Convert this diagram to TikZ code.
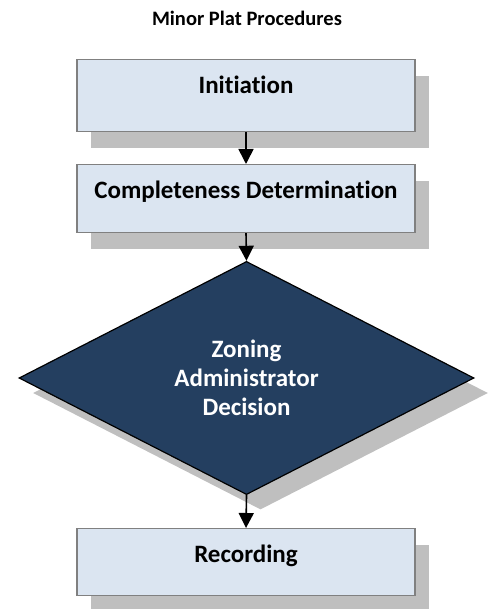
\documentclass[tikz,border=0pt]{standalone}
\usepackage{fontspec}
\setmainfont{Carlito}[RawFeature={-liga;-clig;-dlig}]
\usepackage{tikz}
\usetikzlibrary{shapes.geometric, arrows.meta, positioning, shadows}
\usepackage{xcolor}
\definecolor{boxfill}{RGB}{219, 229, 241}
\definecolor{boxline}{RGB}{128, 128, 128}
\definecolor{shadowgray}{RGB}{191, 191, 191}
\definecolor{decisionblue}{RGB}{36, 63, 96}

\begin{document}
\begin{tikzpicture}[x=1pt, y=1pt,
  stepbox/.style={draw=boxline, line width=1.2pt, fill=boxfill, minimum width=338pt,
    inner ysep=0pt, text height=34pt, font=\fontsize{25}{30}\selectfont\bfseries,
    drop shadow={shadow xshift=14pt, shadow yshift=-16pt, fill=shadowgray, opacity=1}},
  decision/.style={diamond, draw=black, line width=1.2pt, fill=decisionblue, text=white,
    minimum width=455pt, minimum height=227pt, align=center,
    font=\fontsize{25}{29}\selectfont\bfseries,
    drop shadow={shadow xshift=14pt, shadow yshift=-15pt, fill=shadowgray, opacity=1}},
  flow/.style={-{Triangle[width=15pt, length=15pt]}, line width=1.6pt, black}]
  \useasboundingbox (0,0) rectangle (492,-609);

  \node[font=\fontsize{20.5}{24}\selectfont\bfseries] (title) at (247,-18) {Minor Plat Procedures};

  \node[stepbox, text depth=38pt, anchor=north] (initiation) at (246,-59) {Initiation};
  \node[stepbox, text depth=34pt, anchor=north] (completeness) at (246,-164) {Completeness Determination};
  \node[decision] (zadecision) at (246.5,-378) {Zoning\\Administrator\\Decision};
  \node[stepbox, text depth=33pt, anchor=north] (recording) at (246,-528) {Recording};

  \draw[flow] (initiation.south) -- (completeness.north);
  \draw[flow] (completeness.south) -- (zadecision.north);
  \draw[flow] (zadecision.south) -- (recording.north);
\end{tikzpicture}
\end{document}
